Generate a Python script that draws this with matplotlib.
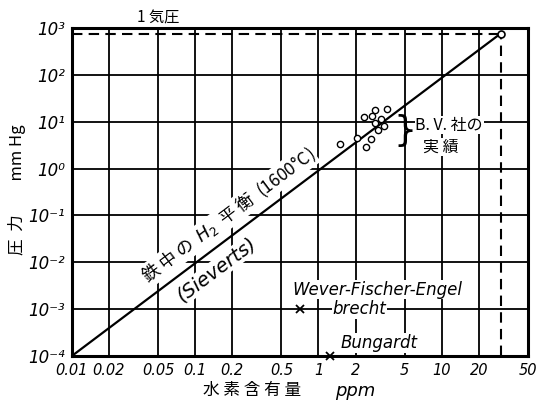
import numpy as np
import matplotlib
matplotlib.use("Agg")
import matplotlib.pyplot as plt
from matplotlib.ticker import NullLocator

plt.rcParams['font.family'] = ['Noto Sans CJK JP', 'DejaVu Sans']
LAT = ['DejaVu Sans', 'Noto Sans CJK JP']

# Sieverts line (1600°C), endpoints
sieverts_x = [0.01, 30]
sieverts_y = [1e-4, 760]

# B.V. measurements (open circles)
bv_x = [1.49, 2.04, 2.34, 2.90, 3.57, 2.73, 3.19, 2.85, 3.40, 3.03, 2.65, 2.44]
bv_y = [3.36, 4.45, 12.8, 17.8, 18.5, 13.3, 11.3, 9.3, 8.1, 6.5, 4.24, 2.94]

# crosses
wfe_x, wfe_y = [0.71], [1e-3]
bung_x, bung_y = [1.25], [1e-4]

x_ticks = [0.01, 0.02, 0.05, 0.1, 0.2, 0.5, 1, 2, 5, 10, 20, 50]
x_labels = ['0.01', '0.02', '0.05', '0.1', '0.2', '0.5', '1', '2', '5', '10', '20', '50']
y_ticks = [1e-4, 1e-3, 1e-2, 1e-1, 1e0, 1e1, 1e2, 1e3]
y_labels = ['10⁻⁴', '10⁻³', '10⁻²', '10⁻¹', '10⁰', '10¹', '10²', '10³']

plt.rcParams['mathtext.fontset'] = 'dejavusans'
plt.rcParams['mathtext.default'] = 'it'

fig = plt.figure(figsize=(5.36, 4.09), dpi=100)
ax = fig.add_axes([0.134, 0.1296, 0.851, 0.802])
ax.set_xscale('log')
ax.set_yscale('log')
ax.set_xlim(0.01, 50)
ax.set_ylim(1e-4, 1e3)

ax.set_xticks(x_ticks)
ax.set_xticklabels(x_labels, fontstyle='italic', fontsize=10.5, family=LAT)
ax.set_yticks(y_ticks)
ax.set_yticklabels(y_labels, fontsize=12, fontstyle='italic', family=LAT)
ax.xaxis.set_minor_locator(NullLocator())
ax.yaxis.set_minor_locator(NullLocator())
ax.tick_params(length=0, pad=5)
ax.grid(True, color='black', lw=1.3)
for s in ax.spines.values():
    s.set_linewidth(2.2)

# 1 atm dashed lines
ax.plot([0.01, 30], [760, 760], 'k--', lw=1.5, dashes=(5, 3))
ax.plot([30, 30], [1e-4, 760], 'k--', lw=1.5, dashes=(5, 3))

ax.plot(sieverts_x, sieverts_y, color='black', lw=1.6, zorder=6)
ax.plot([sieverts_x[1]], [sieverts_y[1]], 'o', mfc='white', mec='black', ms=5, mew=1.2, zorder=7)
ax.plot(bv_x, bv_y, 'o', mfc='white', mec='black', ms=4.5, mew=1.0, zorder=7)
ax.plot(wfe_x, wfe_y, 'x', color='black', ms=6, mew=1.3, zorder=7)
ax.plot(bung_x, bung_y, 'x', color='black', ms=6, mew=1.3, zorder=7, clip_on=False)

wb = dict(facecolor='white', edgecolor='none', pad=0.5)
ax.text(0.186, 0.1, '鉄 中 の  $H_2$  平 衡  (1600°C)', rotation=36.8, ha='center', va='center',
        fontsize=12.5, bbox=wb, zorder=5)
ax.text(0.15, 0.007, '(Sieverts)', rotation=36.8, ha='center', va='center',
        fontsize=14, fontstyle='italic', family=LAT, bbox=wb, zorder=5)
ax.text(6.1, 8.5, 'B. V. 社の', ha='left', va='center', fontsize=11.5, bbox=wb, zorder=5)
ax.text(7.0, 2.9, '実 績', ha='left', va='center', fontsize=11.5, bbox=wb, zorder=5)
ax.text(5.0, 6.3, '}', ha='center', va='center', fontsize=26, family=LAT, zorder=5)
ax.text(0.61, 2.6e-3, 'Wever-Fischer-Engel', ha='left', va='center', fontsize=12,
        fontstyle='italic', family=LAT, bbox=wb, zorder=5)
ax.text(1.3, 1.0e-3, 'brecht', ha='left', va='center', fontsize=12,
        fontstyle='italic', family=LAT, bbox=wb, zorder=5)
ax.text(1.5, 1.9e-4, 'Bungardt', ha='left', va='center', fontsize=12,
        fontstyle='italic', family=LAT, bbox=wb, zorder=5)

fig.text(0.255, 0.955, '1 気圧', ha='left', va='center', fontsize=11)
fig.text(0.032, 0.535, '圧  力         mm Hg', rotation=90, ha='center', va='center',
         fontsize=12)
fig.text(0.378, 0.045, '水 素 含 有 量', ha='left', va='center', fontsize=12)
fig.text(0.625, 0.045, 'ppm', ha='left', va='center', fontsize=13, fontstyle='italic', family=LAT)

fig.savefig('out.png', dpi=100)
